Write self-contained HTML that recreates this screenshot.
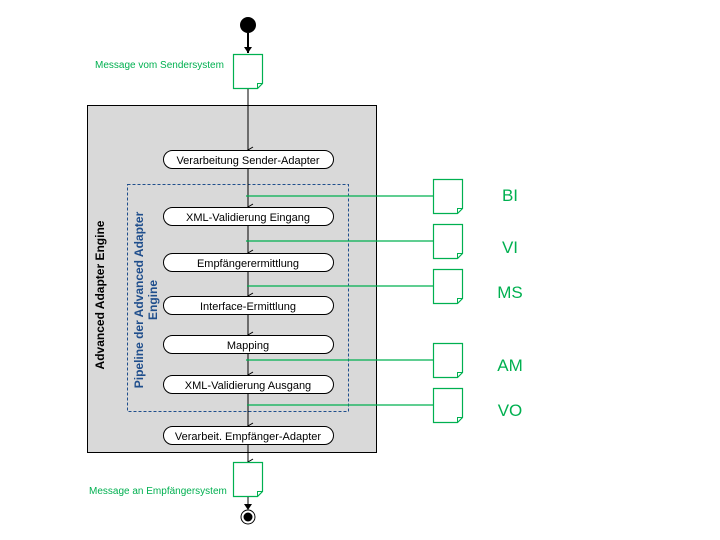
<!DOCTYPE html>
<html><head><meta charset="utf-8"><style>
body{margin:0;background:#fff}
svg{display:block}
text{font-family:"Liberation Sans",sans-serif}
</style></head><body>
<svg width="720" height="540" viewBox="0 0 720 540">
<defs>
<marker id="a" markerWidth="8" markerHeight="8" refX="4" refY="6" orient="auto" markerUnits="userSpaceOnUse">
<path d="M1,1 L4,6 L7,1" fill="none" stroke="#000" stroke-width="1"/></marker>
<g id="doc"><path d="M0,0 H29 V29 L24,34 H0 Z" fill="#fff" stroke="#00b050" stroke-width="1.2"/><path d="M24,34 L24,29 H29" fill="none" stroke="#00b050" stroke-width="1"/></g>
</defs>
<rect x="87.5" y="105.5" width="289" height="347" fill="#d9d9d9" stroke="#000"/>
<rect x="127.5" y="184.5" width="221" height="227" fill="none" stroke="#1f4e8c" stroke-dasharray="3,2"/>
<circle cx="248" cy="25" r="8" fill="#000"/>
<line x1="248" y1="33" x2="248" y2="53" stroke="#000" stroke-width="2"/>
<path d="M244,47 L248,53 L252,47Z" fill="#000"/>
<use href="#doc" x="233.5" y="54.5"/>
<text x="95" y="68" font-size="10" fill="#00b050">Message vom Sendersystem</text>
<g stroke="#000" stroke-width="1">
<line x1="248" y1="89" x2="248" y2="150" marker-end="url(#a)"/>
<line x1="248" y1="169" x2="248" y2="207" marker-end="url(#a)"/>
<line x1="248" y1="226" x2="248" y2="253" marker-end="url(#a)"/>
<line x1="248" y1="271" x2="248" y2="296" marker-end="url(#a)"/>
<line x1="248" y1="315" x2="248" y2="335" marker-end="url(#a)"/>
<line x1="248" y1="354" x2="248" y2="375" marker-end="url(#a)"/>
<line x1="248" y1="394" x2="248" y2="426" marker-end="url(#a)"/>
<line x1="248" y1="445" x2="248" y2="462" marker-end="url(#a)"/>
</g>
<g fill="#fff" stroke="#000">
<rect x="163.5" y="150.5" width="170" height="18" rx="9"/>
<rect x="163.5" y="207.5" width="170" height="18" rx="9"/>
<rect x="163.5" y="253.5" width="170" height="18" rx="9"/>
<rect x="163.5" y="296.5" width="170" height="18" rx="9"/>
<rect x="163.5" y="335.5" width="170" height="18" rx="9"/>
<rect x="163.5" y="375.5" width="170" height="18" rx="9"/>
<rect x="163.5" y="426.5" width="170" height="18" rx="9"/>
</g>
<g font-size="11" text-anchor="middle" fill="#000">
<text x="248" y="164">Verarbeitung Sender-Adapter</text>
<text x="248" y="221">XML-Validierung Eingang</text>
<text x="248" y="267">Empfängerermittlung</text>
<text x="248" y="310">Interface-Ermittlung</text>
<text x="248" y="349">Mapping</text>
<text x="248" y="389">XML-Validierung Ausgang</text>
<text x="248" y="440">Verarbeit. Empfänger-Adapter</text>
</g>
<text transform="translate(104,295) rotate(-90)" font-size="12" font-weight="bold" text-anchor="middle">Advanced Adapter Engine</text>
<text transform="translate(143,300) rotate(-90)" font-size="12" font-weight="bold" text-anchor="middle" fill="#1f4e8c">Pipeline der Advanced Adapter</text>
<text transform="translate(157,300) rotate(-90)" font-size="12" font-weight="bold" text-anchor="middle" fill="#1f4e8c">Engine</text>
<g stroke="#00b050" stroke-width="1.2">
<line x1="246" y1="196" x2="433" y2="196"/>
<line x1="246" y1="241" x2="433" y2="241"/>
<line x1="247" y1="286" x2="433" y2="286"/>
<line x1="246" y1="360" x2="433" y2="360"/>
<line x1="247" y1="405" x2="433" y2="405"/>
</g>
<use href="#doc" x="433.5" y="179.5"/>
<use href="#doc" x="433.5" y="224.5"/>
<use href="#doc" x="433.5" y="269.5"/>
<use href="#doc" x="433.5" y="343.5"/>
<use href="#doc" x="433.5" y="388.5"/>
<g font-size="17" fill="#00b050" text-anchor="middle">
<text x="510" y="201">BI</text>
<text x="510" y="253">VI</text>
<text x="510" y="298">MS</text>
<text x="510" y="371">AM</text>
<text x="510" y="416">VO</text>
</g>
<use href="#doc" x="233.5" y="462.5"/>
<text x="89" y="494" font-size="10" fill="#00b050">Message an Empfängersystem</text>
<line x1="248" y1="497" x2="248" y2="509" stroke="#000"/>
<path d="M244,504 L248,510 L252,504Z" fill="#000"/>
<circle cx="248" cy="517" r="7" fill="#fff" stroke="#000"/>
<circle cx="248" cy="517" r="4.5" fill="#000"/>
</svg>
</body></html>
